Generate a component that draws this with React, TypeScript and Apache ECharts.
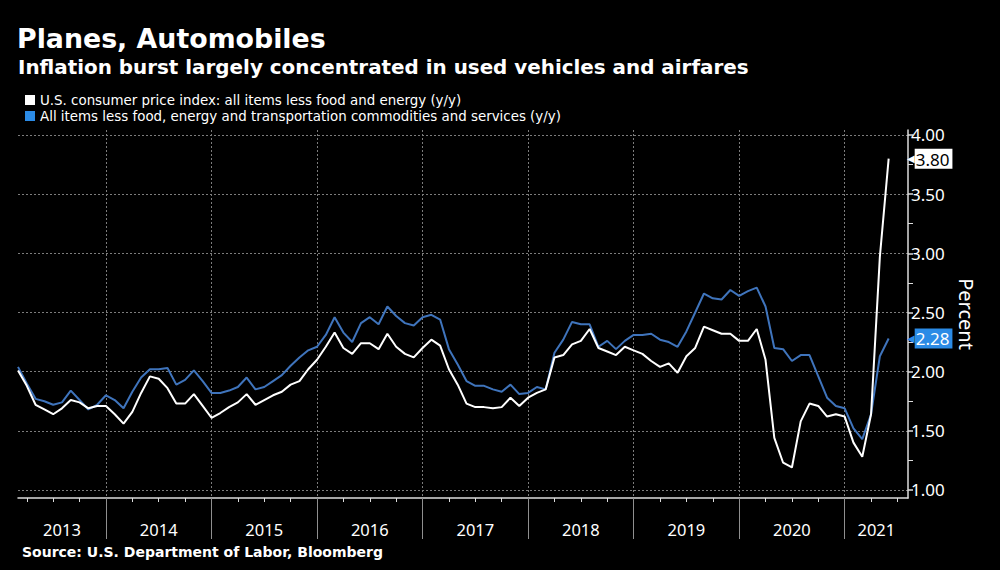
import React, { useEffect, useRef } from "react";
import * as echarts from "echarts";

// ---- data (monthly, first point Feb 2013, last point May 2021) ----
const START_YEAR = 2013;
const START_MONTH = 2;

const coreCpi = [
  2.01, 1.88, 1.72, 1.68, 1.64, 1.69, 1.76, 1.74, 1.69, 1.71, 1.71,
  1.64, 1.56, 1.66, 1.82, 1.96, 1.94, 1.86, 1.73, 1.73, 1.81, 1.71, 1.61,
  1.65, 1.70, 1.74, 1.81, 1.72, 1.76, 1.80, 1.83, 1.89, 1.92, 2.02, 2.10,
  2.21, 2.33, 2.20, 2.15, 2.24, 2.24, 2.19, 2.32, 2.21, 2.15, 2.12, 2.20,
  2.27, 2.22, 2.02, 1.89, 1.73, 1.70, 1.70, 1.69, 1.70, 1.78, 1.71, 1.78,
  1.82, 1.85, 2.12, 2.14, 2.23, 2.26, 2.36, 2.20, 2.17, 2.14, 2.21, 2.18,
  2.15, 2.09, 2.04, 2.07, 1.99, 2.13, 2.20, 2.38, 2.35, 2.32, 2.32, 2.26,
  2.26, 2.36, 2.10, 1.44, 1.23, 1.19, 1.58, 1.73, 1.71, 1.62, 1.64, 1.62,
  1.40, 1.28, 1.64, 2.97, 3.80,
];

const exTransport = [
  2.04, 1.90, 1.77, 1.75, 1.72, 1.74, 1.84, 1.76, 1.68, 1.72, 1.80,
  1.76, 1.69, 1.83, 1.95, 2.02, 2.02, 2.03, 1.89, 1.93, 2.01, 1.92, 1.82,
  1.82, 1.84, 1.87, 1.95, 1.85, 1.87, 1.92, 1.97, 2.05, 2.12, 2.18, 2.21,
  2.31, 2.46, 2.33, 2.25, 2.41, 2.46, 2.40, 2.55, 2.47, 2.41, 2.39, 2.46,
  2.48, 2.44, 2.19, 2.06, 1.92, 1.88, 1.88, 1.85, 1.83, 1.89, 1.81, 1.82,
  1.87, 1.85, 2.16, 2.27, 2.42, 2.40, 2.40, 2.21, 2.26, 2.19, 2.26, 2.31,
  2.31, 2.32, 2.27, 2.25, 2.21, 2.34, 2.50, 2.66, 2.62, 2.61, 2.69, 2.64,
  2.68, 2.71, 2.55, 2.20, 2.19, 2.09, 2.14, 2.14, 1.96, 1.78, 1.71, 1.69,
  1.52, 1.43, 1.64, 2.13, 2.28,
];

const years = [2013, 2014, 2015, 2016, 2017, 2018, 2019, 2020, 2021];
const yTickLabels = [1.0, 1.5, 2.0, 2.5, 3.0, 3.5, 4.0];
const yMinorTicks = [1.25, 1.75, 2.25, 2.75, 3.25, 3.75];

const NAME_CORE = "U.S. consumer price index: all items less food and energy (y/y)";
const NAME_EX = "All items less food, energy and transportation commodities and services (y/y)";

// month-end position expressed as decimal year
const monthPos = (i: number) => {
  const m = START_MONTH - 1 + i;
  const y = START_YEAR + Math.floor(m / 12);
  return y + ((m % 12) + 1) / 12;
};

const X_MIN = monthPos(0);
const X_MAX = 2021.6;
const Y_MIN = 0.932;
const Y_MAX = 4.042;

const WHITE = "#ffffff";
const BLUE_LINE = "#3f74bc";
const BLUE_TAG = "#2b8be6";
const GRID_COLOR = "#7c7c7c";
const AXIS_FONT = "Noto Sans";

export default function App() {
  const ref = useRef<HTMLDivElement>(null);

  useEffect(() => {
    if (!ref.current) return;
    const chart = echarts.init(ref.current, null, { renderer: "svg" });

    const coreData = coreCpi.map((v, i) => [monthPos(i), v]);
    const exData = exTransport.map((v, i) => [monthPos(i), v]);

    const yearBoundaries = years.slice(1);
    const quarterTicks: number[] = [];
    years.forEach((y) => {
      [0.25, 0.5, 0.75].forEach((q) => {
        const v = y + q;
        if (v > X_MIN && v < X_MAX) quarterTicks.push(v);
      });
    });
    const yearLabelPos = years.map(
      (y) => (Math.max(y, X_MIN) + Math.min(y + 1, X_MAX)) / 2
    );

    const lastCore = coreCpi[coreCpi.length - 1];
    const lastEx = exTransport[exTransport.length - 1];

    chart.setOption({
      animation: false,
      backgroundColor: "#000000",
      title: [
        {
          text: "Planes, Automobiles",
          left: 17,
          top: 25,
          padding: 0,
          textStyle: { color: WHITE, fontSize: 26.8, fontWeight: "bold", fontFamily: "DejaVu Sans" },
        },
        {
          text: "Inflation burst largely concentrated in used vehicles and airfares",
          left: 18,
          top: 57,
          padding: 0,
          textStyle: { color: WHITE, fontSize: 19.9, fontWeight: "bold", fontFamily: "DejaVu Sans" },
        },
        {
          text: "Source: U.S. Department of Labor, Bloomberg",
          left: 22,
          top: 545,
          padding: 0,
          textStyle: { color: WHITE, fontSize: 14, fontWeight: "bold", fontFamily: "DejaVu Sans" },
        },
      ],
      legend: {
        orient: "vertical",
        left: 25,
        top: 93,
        padding: 0,
        icon: "rect",
        itemWidth: 10,
        itemHeight: 10,
        itemGap: 2,
        selectedMode: false,
        textStyle: { color: WHITE, fontSize: 13.4, fontFamily: "DejaVu Sans", lineHeight: 14 },
        data: [
          { name: NAME_CORE, itemStyle: { color: WHITE } },
          { name: NAME_EX, itemStyle: { color: BLUE_TAG } },
        ],
      },
      grid: { left: 18, right: 92, top: 130, bottom: 72, containLabel: false },
      xAxis: [
        {
          type: "value",
          position: "bottom",
          min: X_MIN,
          max: X_MAX,
          axisLine: { show: true, onZero: false, lineStyle: { color: "#dcdcdc", width: 1.5 } },
          axisTick: {
            show: true,
            customValues: yearBoundaries,
            length: 41,
            lineStyle: { color: "#8f8f8f", width: 1 },
          },
          axisLabel: {
            show: true,
            customValues: yearLabelPos,
            formatter: (v: number) => String(Math.floor(v)),
            color: WHITE,
            fontSize: 16.5,
            fontFamily: AXIS_FONT,
            margin: 23,
          },
          splitLine: { show: true, lineStyle: { color: GRID_COLOR, type: [2, 2], width: 1 } },
        },
        {
          type: "value",
          position: "bottom",
          min: X_MIN,
          max: X_MAX,
          axisLine: { show: false },
          axisTick: {
            show: true,
            customValues: quarterTicks,
            length: 4,
            lineStyle: { color: "#dcdcdc", width: 1 },
          },
          axisLabel: { show: false },
          splitLine: { show: false },
        },
      ],
      yAxis: [
        {
          type: "value",
          position: "right",
          min: Y_MIN,
          max: Y_MAX,
          name: "Percent",
          nameLocation: "middle",
          nameRotate: -90,
          nameGap: 48,
          nameTextStyle: { color: WHITE, fontSize: 20, fontFamily: AXIS_FONT },
          axisLine: { show: true, onZero: false, lineStyle: { color: "#dcdcdc", width: 1.5 } },
          axisTick: {
            show: true,
            customValues: yTickLabels,
            length: 5,
            lineStyle: { color: "#dcdcdc", width: 1.5 },
          },
          axisLabel: {
            show: true,
            customValues: yTickLabels,
            formatter: (v: number) => v.toFixed(2),
            color: WHITE,
            fontSize: 17,
            fontFamily: AXIS_FONT,
            margin: 3,
          },
          splitLine: { show: true, lineStyle: { color: GRID_COLOR, type: [2, 2], width: 1 } },
        },
        {
          type: "value",
          position: "right",
          min: Y_MIN,
          max: Y_MAX,
          axisLine: { show: false },
          axisTick: {
            show: true,
            customValues: yMinorTicks,
            length: 5,
            lineStyle: { color: "#dcdcdc", width: 1 },
          },
          axisLabel: { show: false },
          splitLine: { show: false },
        },
        {
          type: "value",
          position: "right",
          min: Y_MIN,
          max: Y_MAX,
          axisLine: { show: false },
          axisTick: { show: false },
          splitLine: { show: false },
          axisLabel: {
            show: true,
            customValues: [lastCore, lastEx],
            margin: -1,
            formatter: (v: number) =>
              v === lastCore ? `{wa|◀}{w|${v.toFixed(2)}}` : `{ba|◀}{b|${v.toFixed(2)}}`,
            rich: {
              wa: { color: WHITE, fontSize: 10, fontFamily: "DejaVu Sans" },
              w: {
                color: "#000",
                backgroundColor: WHITE,
                fontSize: 17,
                fontFamily: AXIS_FONT,
                padding: [2, 3, 1, 1],
              },
              ba: { color: BLUE_TAG, fontSize: 10, fontFamily: "DejaVu Sans" },
              b: {
                color: WHITE,
                backgroundColor: BLUE_TAG,
                fontSize: 17,
                fontFamily: AXIS_FONT,
                padding: [2, 3, 1, 1],
              },
            },
          },
        },
      ],
      series: [
        {
          name: NAME_EX,
          type: "line",
          data: exData,
          showSymbol: false,
          symbol: "none",
          lineStyle: { color: BLUE_LINE, width: 2 },
          itemStyle: { color: BLUE_LINE },
          z: 2,
        },
        {
          name: NAME_CORE,
          type: "line",
          data: coreData,
          showSymbol: false,
          symbol: "none",
          lineStyle: { color: WHITE, width: 2 },
          itemStyle: { color: WHITE },
          z: 3,
        },
      ],
    });

    return () => chart.dispose();
  }, []);

  return (
    <div
      ref={ref}
      style={{ width: 1000, height: 570, position: "fixed", left: 0, top: 0, background: "#000" }}
    />
  );
}
